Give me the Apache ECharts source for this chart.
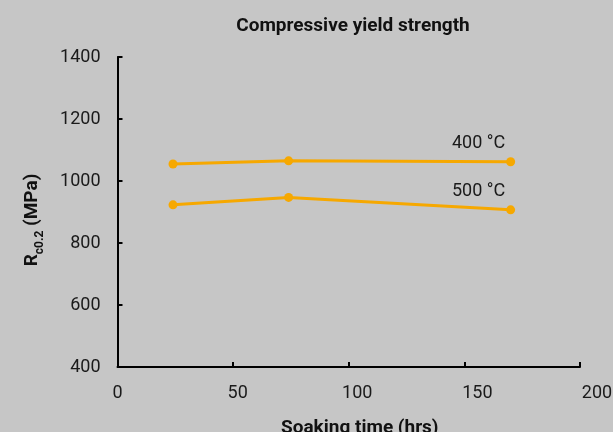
<!DOCTYPE html>
<html>
<head>
<meta charset="utf-8">
<script src="https://cdn.jsdelivr.net/npm/echarts@6/dist/echarts.min.js"></script>
<style>html,body{margin:0;padding:0;background:#c6c6c6;}#c{width:613px;height:432px;}</style>
</head>
<body>
<div id="c"></div>
<script>
const soakingTime = [24, 74, 170];
const strength400 = [1055, 1065, 1062];
const strength500 = [923, 947, 907];
const seriesNames = ['400 °C', '500 °C'];
const xTicks = [0, 50, 100, 150, 200];
const yTicks = [400, 600, 800, 1000, 1200, 1400];

const FONT = 'Roboto';
const chart = echarts.init(document.getElementById('c'));
function mk(name, vals) {
  return {
    name: name, type: 'line',
    data: soakingTime.map((t, i) => {
      const d = { value: [t, vals[i]] };
      if (i === soakingTime.length - 1) {
        d.label = { show: true, position: 'top', offset: [-32, 0], formatter: name,
          color: '#1a1a1a', fontSize: 18, fontFamily: FONT };
      }
      return d;
    }),
    symbol: 'circle', symbolSize: 9,
    lineStyle: { color: '#f6a800', width: 3 },
    itemStyle: { color: '#f6a800' },
    emphasis: { disabled: true },
    animation: false
  };
}
// x tick labels in the reference drift slightly right of their ticks
const xRich = {};
xTicks.forEach((v, i) => {
  xRich['t' + i] = { fontFamily: FONT, fontSize: 18, color: '#1a1a1a', padding: [0, 0, 0, Math.round(v * 0.17)] };
});
chart.setOption({
  backgroundColor: '#c6c6c6',
  animation: false,
  title: { text: 'Compressive yield strength', top: 12, left: 348, textAlign: 'center',
    textStyle: { fontFamily: FONT, fontSize: 19, fontWeight: 'bold', color: '#111' } },
  grid: { left: 117.5, right: 33, top: 57, bottom: 65, containLabel: false, outerBoundsMode: 'none' },
  xAxis: {
    type: 'value', min: xTicks[0], max: xTicks[xTicks.length - 1], interval: 50,
    name: 'Soaking time (hrs)', nameLocation: 'middle', nameGap: 52,
    nameTextStyle: { fontFamily: FONT, fontSize: 19, fontWeight: 'bold', color: '#111', padding: [0, 0, 0, 22] },
    axisLine: { lineStyle: { color: '#000', width: 2 } },
    axisTick: { inside: true, length: 5, lineStyle: { color: '#000', width: 2 } },
    axisLabel: { margin: 17, fontFamily: FONT, fontSize: 18, color: '#1a1a1a',
      formatter: (v) => '{t' + xTicks.indexOf(v) + '|' + v + '}', rich: xRich },
    splitLine: { show: false }
  },
  yAxis: {
    type: 'value', min: yTicks[0], max: yTicks[yTicks.length - 1], interval: 200,
    name: '{r|R}{s|c0.2}{r| (MPa)}', nameLocation: 'middle', nameGap: 72, nameRotate: 90,
    nameTextStyle: { fontFamily: FONT, fontWeight: 'bold', color: '#111', padding: [0, 16, 0, 0],
      rich: {
        r: { fontFamily: FONT, fontSize: 19, fontWeight: 'bold', color: '#111', lineHeight: 26, verticalAlign: 'middle' },
        s: { fontFamily: FONT, fontSize: 12, fontWeight: 'bold', color: '#111', verticalAlign: 'bottom', lineHeight: 26 }
      } },
    axisLine: { show: true, lineStyle: { color: '#000', width: 2 } },
    axisTick: { show: true, inside: true, length: 5, lineStyle: { color: '#000', width: 2 } },
    axisLabel: { margin: 17, fontFamily: FONT, fontSize: 18, color: '#1a1a1a', formatter: (v) => String(v) },
    splitLine: { show: false }
  },
  series: [mk(seriesNames[0], strength400), mk(seriesNames[1], strength500)]
});
</script>
</body>
</html>
